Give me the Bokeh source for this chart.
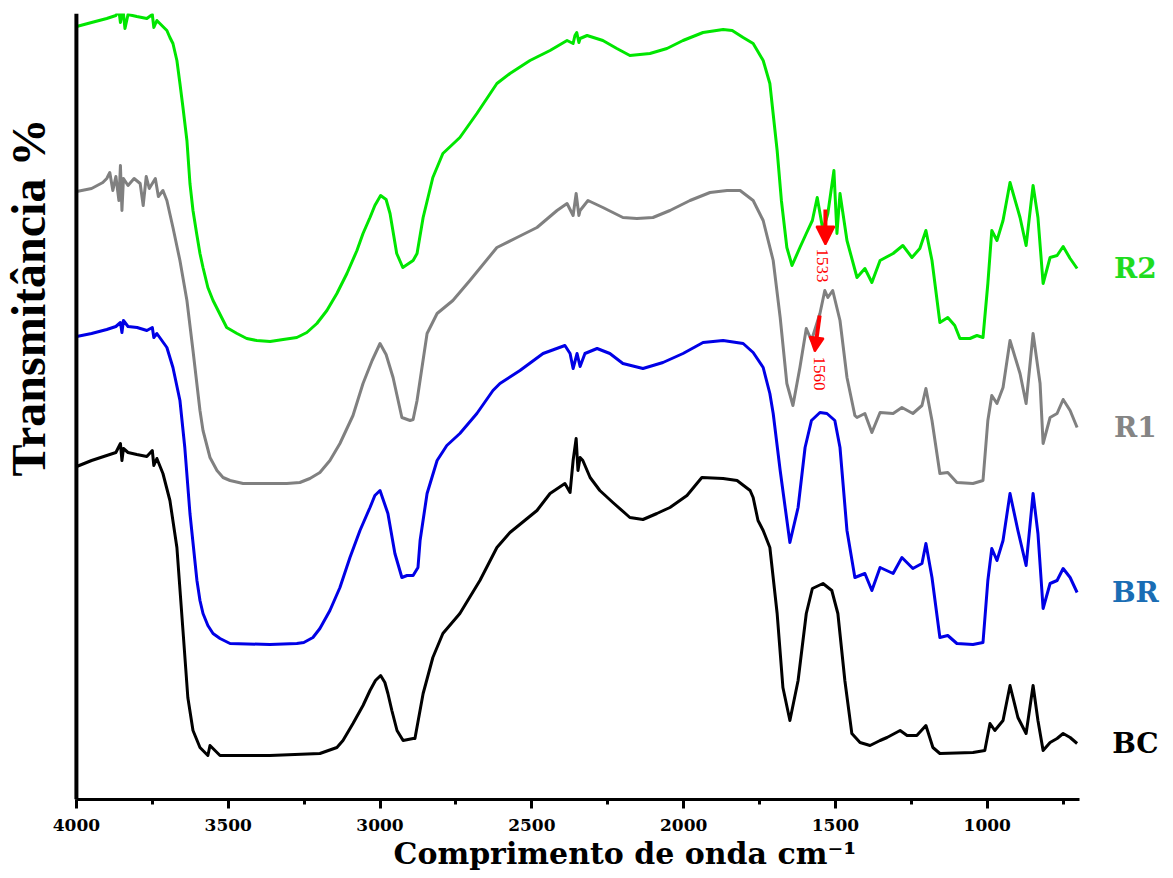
from bokeh.plotting import figure
from bokeh.models import Range1d, SingleIntervalTicker, Arrow, NormalHead, Span, Title
from bokeh.core.properties import value
from bokeh.embed import file_html
from bokeh.resources import INLINE
import math

# ---- data (wavenumber cm-1, transmittance in offset arbitrary units) ----
wn_R2 = [3999, 3950, 3900, 3870, 3860, 3855, 3847, 3840, 3830, 3801, 3768, 3750, 3745, 3735, 3702, 3692,
         3682, 3669, 3659, 3649, 3636, 3626, 3616, 3604, 3593, 3583, 3567, 3550, 3505, 3471, 3439, 3406,
         3362, 3319, 3274, 3241, 3208, 3175, 3142, 3109, 3076, 3056, 3033, 3017, 2998, 2980, 2967,
         2945, 2925, 2891, 2878, 2858, 2826, 2793, 2737, 2681, 2615, 2572, 2506, 2440, 2384, 2364, 2358,
         2352, 2345, 2341, 2318, 2266, 2220, 2177, 2111, 2055, 2002, 1936, 1870, 1840, 1804, 1771, 1738,
         1716, 1692, 1678, 1660, 1643, 1617, 1596, 1576, 1560, 1541, 1525, 1505, 1495, 1485, 1462, 1429,
         1403, 1380, 1353, 1310, 1278, 1248, 1222, 1202, 1182, 1156, 1130, 1107, 1090, 1057, 1034, 1014,
         998, 985, 968, 948, 925, 892, 872, 849, 833, 816, 793, 770, 750, 727, 704]
T_R2 = [773, 777, 781, 784, 789, 777, 791, 771, 785, 783, 781, 785, 772, 779, 769, 762,
        756, 739, 716, 692, 659, 616, 589, 566, 546, 532, 512, 499, 472, 466, 461, 459,
        458, 460, 462, 467, 476, 489, 506, 526, 549, 566, 582, 594, 604, 600, 586,
        546, 532, 539, 546, 582, 622, 646, 662, 686, 716, 726, 739, 749, 759, 756, 764,
        767, 757, 761, 764, 759, 751, 744, 746, 751, 759, 767, 770, 769, 762, 756, 739,
        716, 649, 599, 552, 534, 552, 566, 579, 602, 569, 586, 629, 566, 606, 559, 522,
        531, 517, 539, 546, 554, 542, 551, 569, 539, 477, 482, 474, 461, 461, 464, 462,
        516, 569, 559, 579, 617, 582, 554, 614, 582, 516, 542, 544, 553, 541, 531]

wn_R1 = [3999, 3950, 3913, 3900, 3890, 3880, 3870, 3860, 3855, 3850, 3845, 3830, 3810, 3790, 3780, 3770,
         3760, 3740, 3730, 3715, 3702, 3682, 3659, 3636, 3616, 3593, 3583, 3560, 3537, 3517, 3494, 3451,
         3406, 3307, 3264, 3231, 3198, 3165, 3132, 3089, 3056, 3026, 3000, 2980, 2957, 2928, 2901, 2891,
         2878, 2845, 2812, 2760, 2704, 2615, 2549, 2483, 2417,
         2384, 2364, 2354, 2345, 2341, 2315, 2266, 2200, 2154, 2101, 2045, 1979, 1913, 1857, 1814, 1771,
         1738, 1705, 1682, 1660, 1640, 1617, 1596, 1579, 1551, 1535, 1525, 1509, 1485, 1462, 1436, 1429,
         1403, 1380, 1353, 1310, 1281, 1245, 1215, 1202, 1182, 1156, 1130, 1100, 1047, 1014, 998, 985,
         968, 948, 925, 892, 872, 849, 826, 816, 793, 770, 750, 727, 704]
T_R1 = [608, 611, 617, 621, 627, 609, 623, 599, 634, 589, 621, 614, 621, 616, 594, 623,
        611, 621, 603, 609, 599, 572, 539, 499, 449, 389, 369, 342, 329, 322, 319, 316,
        316, 316, 317, 321, 327, 339, 356, 384, 416, 439, 456, 445, 422, 382, 379, 380,
        399, 466, 486, 499, 519, 552, 562, 572, 589,
        596, 584, 606, 584, 589, 599, 592, 582, 581, 582, 589, 599, 607, 609, 609, 599,
        579, 539, 482, 416, 394, 432, 471, 459, 486, 509, 502, 509, 479, 422, 384, 382,
        386, 367, 387, 386, 392, 386, 394, 411, 379, 326, 327, 317, 316, 319, 379, 404,
        396, 412, 459, 426, 396, 466, 416, 356, 382, 386, 400, 389, 372]

wn_BR = [3999, 3950, 3900, 3870, 3855, 3850, 3845, 3830, 3800, 3768, 3750, 3745, 3735, 3702, 3682, 3659,
         3643, 3626, 3603, 3593, 3583, 3567, 3550, 3527, 3494, 3363, 3274, 3251, 3221, 3198, 3165, 3132,
         3099, 3066, 3033, 3017, 3000, 2974, 2951, 2928,
         2911, 2891, 2875, 2868, 2845, 2812, 2780, 2737, 2681, 2628, 2605, 2539, 2463, 2391, 2374, 2364,
         2351, 2341, 2325, 2285, 2243, 2200, 2134, 2068, 2002, 1936, 1870, 1804, 1771, 1738, 1716, 1705,
         1682, 1650, 1623, 1600, 1579, 1551, 1528, 1502, 1485, 1462, 1436, 1403, 1380, 1353, 1310, 1281,
         1245, 1215, 1202, 1182, 1156, 1130, 1100, 1047, 1014, 998, 985, 968, 948, 925, 899, 872,
         849, 833, 816, 793, 770, 750, 727, 704]
T_BR = [463, 466, 470, 473, 477, 467, 479, 473, 472, 469, 472, 462, 466, 452, 432, 399,
        352, 286, 219, 199, 186, 174, 166, 161, 156, 155, 156, 157, 162, 171, 189, 212,
        242, 269, 292, 304, 309, 286, 246, 222,
        224, 224, 232, 259, 306, 339, 354, 366, 386, 409, 416, 429, 446, 454, 446, 431,
        446, 433, 446, 451, 446, 436, 431, 437, 446, 457, 459, 456, 447, 432, 406, 386,
        329, 257, 292, 352, 379, 387, 386, 379, 352, 269, 222, 226, 209, 232, 226, 242,
        231, 236, 256, 222, 162, 164, 156, 155, 157, 219, 251, 239, 259, 306, 269, 234,
        306, 266, 191, 216, 219, 231, 222, 207]

wn_BC = [3999, 3950, 3900, 3870, 3855, 3850, 3845, 3830, 3801, 3768, 3750, 3745, 3735, 3715, 3692, 3669,
         3649, 3633, 3616, 3593, 3567, 3560, 3527, 3363, 3198, 3142, 3122, 3089, 3056, 3033, 3015, 2998,
         2984, 2974, 2961, 2944, 2924,
         2891, 2885, 2858, 2826, 2793, 2737, 2671, 2615, 2572, 2483, 2440, 2391, 2374, 2364, 2354, 2348,
         2341, 2332, 2308, 2276, 2233, 2177, 2134, 2088, 2045, 1989, 1940, 1870, 1824, 1781, 1771, 1755,
         1738, 1716, 1692, 1673, 1650, 1623, 1596, 1576, 1541, 1512, 1492, 1469, 1446, 1419, 1386, 1353,
         1330, 1287, 1264, 1232, 1202, 1179, 1156, 1047, 1008, 991, 975, 948, 925, 899, 872, 849,
         833, 816, 793, 770, 750, 727, 704]
T_BC = [333, 339, 344, 347, 356, 339, 351, 347, 345, 343, 349, 334, 341, 326, 299, 252,
        169, 102, 69, 52, 44, 54, 44, 44, 46, 52, 59, 76, 94, 109, 119, 124,
        117, 106, 89, 69, 59,
        61, 61, 106, 142, 166, 186, 219, 252, 267, 289, 306, 316, 307, 339, 361, 329,
        342, 339, 322, 309, 297, 282, 280, 286, 292, 304, 322, 321, 319, 309, 302, 279,
        269, 252, 186, 112, 79, 119, 186, 211, 216, 209, 186, 119, 66, 57, 54, 59,
        62, 69, 64, 64, 74, 52, 46, 47, 49, 76, 69, 79, 114, 82, 66, 114,
        79, 49, 57, 61, 66, 62, 56]

series_names = ["R2", "R1", "BR", "BC"]
series_x = [wn_R2, wn_R1, wn_BR, wn_BC]
series_y = [T_R2, T_R1, T_BR, T_BC]
line_colors = ["#00e600", "#808080", "#0000e6", "#000000"]
label_colors = ["#1fdc1f", "#858585", "#1a6db4", "#000000"]

x_ticks_start, x_ticks_end = 4000, 696
ann_text = ["1533", "1560"]
ann_wn = [1533, 1560]

# ---- figure ----
W, H = 1168, 878
p = figure(width=W, height=H, output_backend="svg", toolbar_location=None,
           x_range=Range1d(4250, 403), y_range=Range1d(0, 786),
           min_border_left=0, min_border_right=0, min_border_top=13, min_border_bottom=79)
p.outline_line_color = None
p.grid.visible = False
p.yaxis.visible = False

for name, xs, ys, col, lcol in zip(series_names, series_x, series_y, line_colors, label_colors):
    p.line(xs, ys, line_color=col, line_width=3, line_join="round")
    p.text(x=[512], y=[ys[-1]], text=[name], text_align="center", text_baseline="middle",
           text_font=value("DejaVu Serif"), text_font_style="bold", text_font_size="28px",
           text_color=lcol)

# y axis line at 4000 cm-1
p.add_layout(Span(location=x_ticks_start, dimension="height", line_color="black", line_width=4))
p.text(x=[4158], y=[502], text=["Transmitância %"], angle=math.pi / 2,
       text_align="center", text_baseline="middle",
       text_font=value("Liberation Serif"), text_font_style="bold", text_font_size="48px",
       text_color="black")

# x axis
xa = p.xaxis[0]
xa.bounds = (x_ticks_end, x_ticks_start)
xa.ticker = SingleIntervalTicker(interval=500, num_minor_ticks=2)
xa.axis_line_width = 3
xa.major_tick_line_width = 3
xa.minor_tick_line_width = 3
xa.major_tick_out = 9
xa.major_tick_in = 0
xa.minor_tick_out = 5
xa.minor_tick_in = 0
xa.major_label_text_font = "DejaVu Serif"
xa.major_label_text_font_style = "bold"
xa.major_label_text_font_size = "17px"
xa.major_label_text_color = "black"
xa.major_label_standoff = 10

p.add_layout(Title(text="Comprimento de onda cm⁻¹", align="left", offset=393, standoff=0,
                   text_font="DejaVu Serif", text_font_style="bold", text_font_size="30px",
                   text_color="black"), "below")

# annotations
p.add_layout(Arrow(end=NormalHead(size=18, fill_color="red", line_color="red", line_width=2),
                   x_start=ann_wn[0], y_start=590, x_end=ann_wn[0], y_end=555,
                   line_color="red", line_width=4))
p.text(x=[1541], y=[534], text=[ann_text[0]], angle=-math.pi / 2,
       text_align="center", text_baseline="middle",
       text_font=value("Liberation Serif"), text_font_size="17px", text_color="red")
p.add_layout(Arrow(end=NormalHead(size=14, fill_color="red", line_color="red", line_width=2),
                   x_start=1552, y_start=484, x_end=1568, y_end=448,
                   line_color="red", line_width=4))
p.text(x=[1554], y=[426], text=[ann_text[1]], angle=-math.pi / 2,
       text_align="center", text_baseline="middle",
       text_font=value("Liberation Serif"), text_font_size="17px", text_color="red")

open("out.html", "w").write(file_html(p, INLINE))
